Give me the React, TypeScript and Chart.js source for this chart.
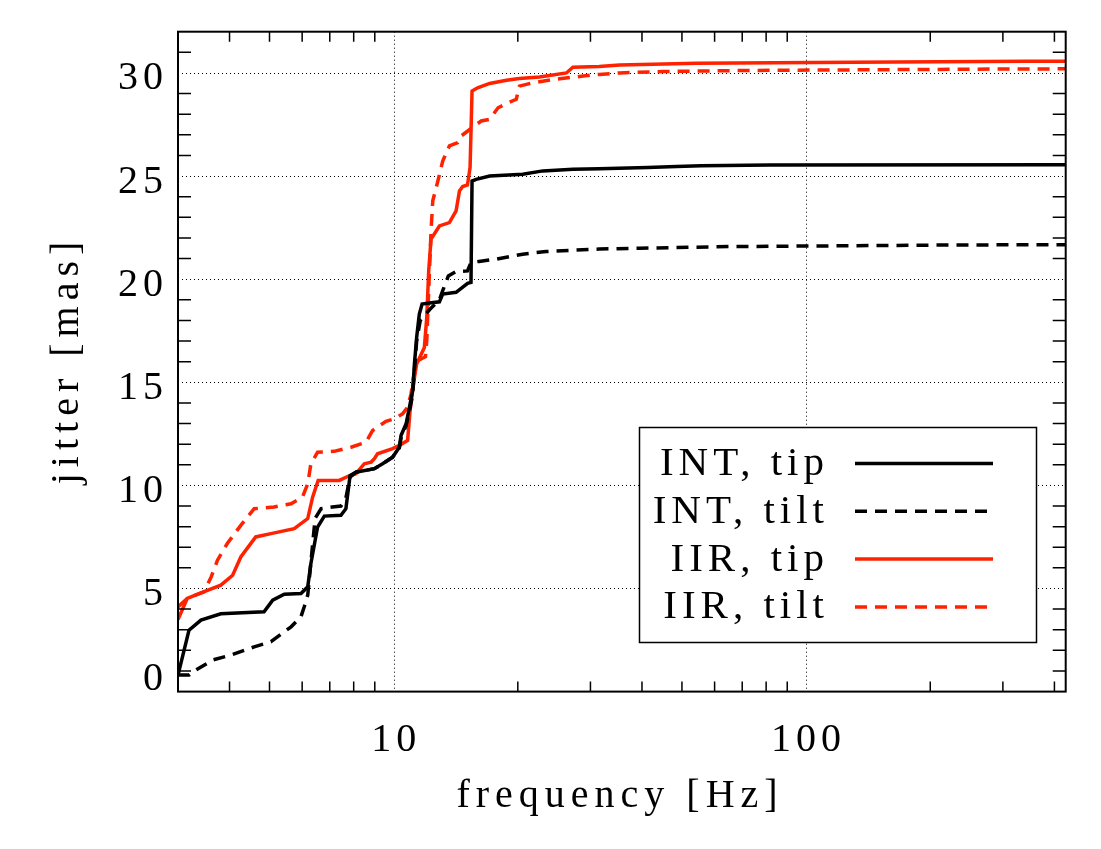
import React, { useEffect, useRef } from 'react';
import { Chart, registerables } from 'chart.js';

Chart.register(...registerables);

// values
const intTipFreq = [3.0, 3.19, 3.41, 3.81, 4.85, 5.09, 5.43, 5.96, 6.19, 6.30, 6.54, 6.79, 7.45, 7.66, 7.84, 8.10, 8.98, 9.40, 9.94, 10.32, 10.42, 10.72, 10.92, 11.12, 11.23, 11.37, 11.54, 11.72, 12.21, 12.91, 13.15, 14.17, 15.11, 15.40, 15.49, 15.85, 17.09, 20.55, 23.0, 27.2, 31.5, 41.3, 48.5, 55.7, 81.7, 426];
const intTipJitter = [0.8, 2.98, 3.47, 3.77, 3.87, 4.43, 4.72, 4.76, 5.08, 6.21, 7.98, 8.51, 8.55, 8.87, 10.48, 10.64, 10.81, 11.05, 11.37, 11.85, 12.42, 12.99, 13.79, 14.6, 15.89, 17.18, 18.31, 18.79, 18.84, 18.9, 19.28, 19.36, 19.8, 19.84, 24.76, 24.84, 25.0, 25.09, 25.25, 25.33, 25.36, 25.41, 25.46, 25.5, 25.54, 25.55];

const intTiltFreq = [3.0, 3.19, 3.32, 3.64, 4.03, 4.59, 5.04, 5.64, 5.96, 6.07, 6.19, 6.45, 6.67, 7.1, 7.45, 7.66, 7.84, 8.10, 8.98, 9.40, 9.94, 10.32, 10.42, 10.72, 10.92, 11.12, 11.23, 11.37, 11.6, 12.26, 12.91, 13.15, 13.57, 14.17, 15.1, 15.4, 16.1, 17.7, 20.55, 23.4, 31.5, 39.5, 65.3, 240, 426];
const intTiltJitter = [0.8, 0.8, 1.05, 1.53, 1.77, 2.17, 2.42, 3.14, 3.63, 4.11, 4.68, 8.4, 8.87, 8.95, 9.0, 9.4, 10.4, 10.64, 10.81, 11.05, 11.37, 11.8, 12.3, 12.9, 13.6, 14.4, 15.6, 17.0, 18.0, 18.55, 19.0, 19.44, 20.16, 20.37, 20.4, 20.81, 20.86, 20.97, 21.21, 21.34, 21.46, 21.5, 21.58, 21.66, 21.67];

const iirTipFreq = [3.0, 3.16, 3.41, 3.81, 4.07, 4.26, 4.63, 5.04, 5.74, 6.19, 6.36, 6.56, 7.38, 7.73, 8.10, 8.49, 8.82, 8.98, 9.14, 9.94, 10.32, 10.81, 10.96, 11.17, 11.37, 11.87, 12.03, 12.16, 12.32, 12.91, 13.65, 14.17, 14.44, 14.7, 15.1, 15.32, 15.49, 15.98, 17.09, 18.78, 20.18, 22.56, 26.23, 27.2, 31.5, 35.3, 42.5, 54.2, 130, 343, 426];
const iirTipJitter = [3.5, 4.52, 4.79, 5.16, 5.64, 6.53, 7.50, 7.66, 7.90, 8.39, 9.43, 10.24, 10.24, 10.43, 10.57, 11.05, 11.13, 11.29, 11.53, 11.78, 11.94, 12.18, 13.63, 14.92, 15.89, 16.69, 18.15, 20.4, 21.94, 22.58, 22.74, 23.31, 24.28, 24.49, 24.57, 25.41, 29.12, 29.28, 29.49, 29.65, 29.73, 29.8, 30.0, 30.28, 30.31, 30.38, 30.42, 30.47, 30.52, 30.57, 30.57];

const iirTiltFreq = [3.0, 3.16, 3.47, 3.61, 3.74, 3.95, 4.26, 4.59, 5.13, 5.64, 6.01, 6.19, 6.30, 6.54, 7.17, 7.88, 8.57, 8.89, 9.58, 10.04, 10.51, 10.81, 11.02, 11.17, 11.44, 11.94, 12.03, 12.32, 12.44, 12.8, 13.15, 13.65, 14.3, 14.57, 15.32, 16.3, 17.09, 17.91, 18.94, 19.83, 20.18, 21.72, 24.3, 28.8, 31.5, 35.3, 45, 71.6, 240, 426];
const iirTiltJitter = [4.11, 4.52, 4.84, 5.56, 6.37, 7.18, 8.06, 8.87, 8.95, 9.11, 9.43, 10.08, 11.05, 11.61, 11.65, 11.85, 12.1, 12.66, 13.11, 13.23, 13.47, 13.79, 14.44, 15.24, 16.05, 16.24, 17.02, 22.34, 23.8, 24.76, 25.73, 26.46, 26.62, 26.94, 27.27, 27.67, 27.75, 28.31, 28.55, 28.72, 29.36, 29.52, 29.68, 29.85, 29.93, 30.0, 30.07, 30.12, 30.18, 30.2];

const seriesLabels = ['INT, tip', 'INT, tilt', 'IIR, tip', 'IIR, tilt'];

const xTickValues = [10, 100];
const xTickLabels = ['10', '100'];
const yTickValues = [0, 5, 10, 15, 20, 25, 30];
const yTickLabels = ['0', '5', '10', '15', '20', '25', '30'];

const FONT = '"Liberation Serif", "Times New Roman", serif';
const RED = 'rgb(255, 34, 0)';

const zip = (xs: number[], ys: number[]) => xs.map((x, i) => ({ x, y: ys[i] }));

// canvas letterSpacing adds a gap after the last glyph too, so measure by hand
function spacedText(ctx: CanvasRenderingContext2D, text: string, x: number, y: number, align: 'left' | 'right' | 'center', spacing: number) {
  (ctx as any).letterSpacing = '0px';
  const w = ctx.measureText(text).width + spacing * (text.length - 1);
  let left = x;
  if (align === 'right') left = x - w;
  if (align === 'center') left = x - w / 2;
  (ctx as any).letterSpacing = spacing + 'px';
  ctx.textAlign = 'left';
  ctx.fillText(text, left, y);
  (ctx as any).letterSpacing = '0px';
}

const idlAxes = {
  id: 'idlAxes',
  beforeDatasetsDraw(chart: Chart) {
    const { ctx, chartArea: a } = chart;
    const xs = chart.scales.x;
    const ys = chart.scales.y;
    ctx.save();
    ctx.strokeStyle = '#000';
    ctx.lineWidth = 1;
    ctx.setLineDash([1, 3]);
    ctx.beginPath();
    xTickValues.forEach((v) => {
      const px = Math.round(xs.getPixelForValue(v)) + 0.5;
      ctx.moveTo(px, a.top);
      ctx.lineTo(px, a.bottom);
    });
    yTickValues.forEach((v) => {
      if (v === 0) return;
      const py = Math.round(ys.getPixelForValue(v)) + 0.5;
      ctx.moveTo(a.left, py);
      ctx.lineTo(a.right, py);
    });
    ctx.stroke();
    ctx.restore();
  },
  afterDatasetsDraw(chart: Chart) {
    const { ctx, chartArea: a } = chart;
    const xs = chart.scales.x;
    const ys = chart.scales.y;
    ctx.save();
    ctx.strokeStyle = '#000';
    ctx.setLineDash([]);

    // minor ticks
    ctx.lineWidth = 1.5;
    ctx.beginPath();
    [1, 10, 100].forEach((d) => {
      for (let m = 2; m <= 9; m++) {
        const v = m * d;
        if (v <= (xs.min as number) || v >= (xs.max as number)) continue;
        const px = xs.getPixelForValue(v);
        ctx.moveTo(px, a.bottom);
        ctx.lineTo(px, a.bottom - 10);
        ctx.moveTo(px, a.top);
        ctx.lineTo(px, a.top + 10);
      }
    });
    for (let v = 1; v < (ys.max as number); v++) {
      if (v % 5 === 0) continue;
      const py = ys.getPixelForValue(v);
      ctx.moveTo(a.left, py);
      ctx.lineTo(a.left + 13, py);
      ctx.moveTo(a.right, py);
      ctx.lineTo(a.right - 13, py);
    }
    ctx.stroke();

    // frame
    ctx.lineWidth = 2;
    ctx.strokeRect(a.left, a.top, a.right - a.left, a.bottom - a.top);

    // tick labels
    ctx.fillStyle = '#000';
    ctx.font = '40px ' + FONT;
    ctx.textBaseline = 'alphabetic';
    yTickValues.forEach((v, i) => {
      const py = ys.getPixelForValue(v);
      const base = v === 0 ? a.bottom - 1.5 : py + 16.5;
      spacedText(ctx, yTickLabels[i], a.left - 15, base, 'right', 5);
    });
    xTickValues.forEach((v, i) => {
      spacedText(ctx, xTickLabels[i], xs.getPixelForValue(v), a.bottom + 59.5, 'center', 5);
    });

    // axis titles
    spacedText(ctx, 'frequency [Hz]', 617, a.bottom + 115, 'center', 6);
    ctx.save();
    ctx.translate(a.left - 100, 363);
    ctx.rotate(-Math.PI / 2);
    spacedText(ctx, 'jitter [mas]', 0, 0, 'center', 6);
    ctx.restore();

    // legend box
    const bx = 639.5, by = 427.5, bw = 397, bh = 215;
    ctx.fillStyle = '#fff';
    ctx.fillRect(bx, by, bw, bh);
    ctx.lineWidth = 1.5;
    ctx.strokeStyle = '#000';
    ctx.strokeRect(bx, by, bw, bh);
    chart.data.datasets.forEach((ds: any, i: number) => {
      const base = 475 + i * 47.8;
      ctx.fillStyle = '#000';
      ctx.font = '41px ' + FONT;
      spacedText(ctx, ds.label, 824, base, 'right', 5);
      ctx.strokeStyle = ds.borderColor;
      ctx.lineWidth = 3.5;
      ctx.setLineDash(ds.borderDash || []);
      ctx.beginPath();
      ctx.moveTo(855, base - 11.5);
      ctx.lineTo(993, base - 11.5);
      ctx.stroke();
    });
    ctx.restore();
  },
};

const JitterChart: React.FC = () => {
  const chartRef = useRef<HTMLCanvasElement>(null);
  const chartInstance = useRef<Chart | null>(null);

  useEffect(() => {
    document.body.style.margin = '0';
    if (!chartRef.current) return;
    if (chartInstance.current) chartInstance.current.destroy();

    const line = (label: string, data: { x: number; y: number }[], color: string, dashed: boolean) => ({
      label,
      data,
      borderColor: color,
      backgroundColor: color,
      borderWidth: 3.5,
      borderDash: dashed ? [12, 8] : [],
      pointRadius: 0,
      tension: 0,
      fill: false,
    });

    chartInstance.current = new Chart(chartRef.current, {
      type: 'line',
      data: {
        datasets: [
          line(seriesLabels[0], zip(intTipFreq, intTipJitter), '#000', false),
          line(seriesLabels[1], zip(intTiltFreq, intTiltJitter), '#000', true),
          line(seriesLabels[2], zip(iirTipFreq, iirTipJitter), RED, false),
          line(seriesLabels[3], zip(iirTiltFreq, iirTiltJitter), RED, true),
        ],
      },
      options: {
        responsive: false,
        animation: false,
        layout: { padding: { left: 178, right: 35.3, top: 31.7, bottom: 157.4 } },
        scales: {
          x: { type: 'logarithmic', min: 3, max: 426, display: false },
          y: { type: 'linear', min: 0, max: 32, display: false },
        },
        plugins: {
          legend: { display: false },
          tooltip: { enabled: false },
        },
      },
      plugins: [idlAxes],
    });

    return () => {
      if (chartInstance.current) {
        chartInstance.current.destroy();
        chartInstance.current = null;
      }
    };
  }, []);

  return <canvas ref={chartRef} width={1101} height={849} />;
};

export default function App() {
  return (
    <div style={{ width: 1101, height: 849, background: '#fff' }}>
      <JitterChart />
    </div>
  );
}
